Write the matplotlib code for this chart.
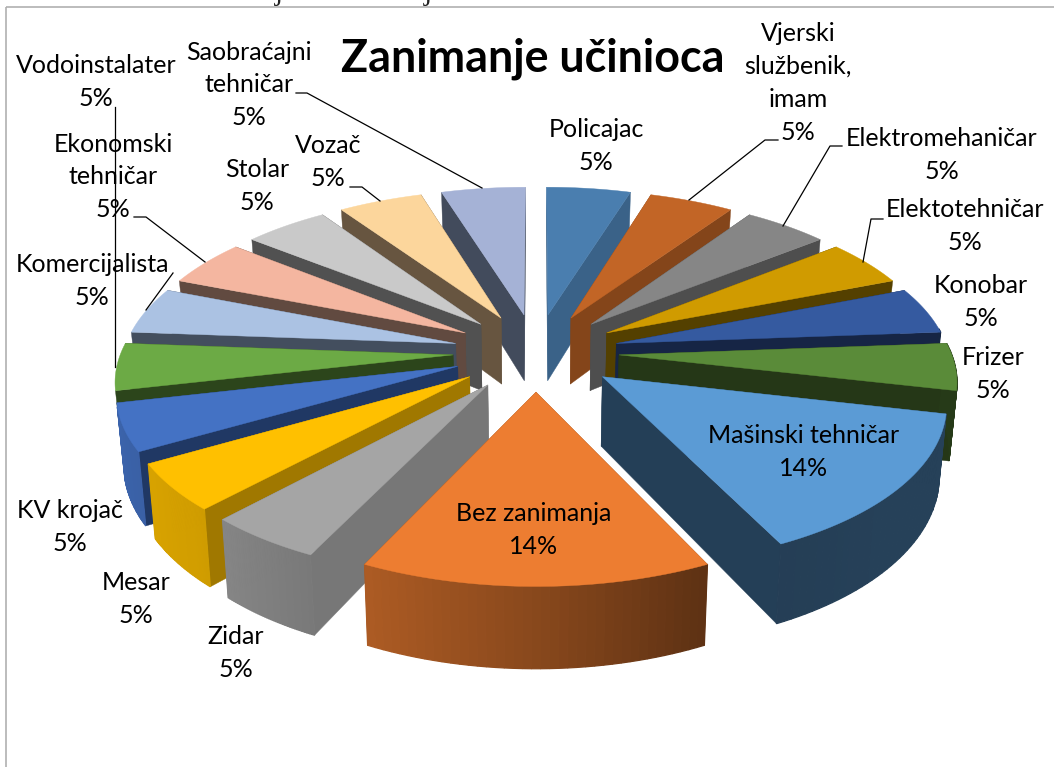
import numpy as np
import matplotlib
matplotlib.use("Agg")
import matplotlib.pyplot as plt
from matplotlib.patches import Polygon, Rectangle

plt.rcParams['font.family'] = ['Lato', 'DejaVu Sans']

labels = ["Policajac", "Vjerski\nslužbenik,\nimam", "Elektromehaničar", "Elektotehničar",
          "Konobar", "Frizer", "Mašinski tehničar", "Bez zanimanja", "Zidar", "Mesar",
          "KV krojač", "Vodoinstalater", "Komercijalista", "Ekonomski\ntehničar", "Stolar",
          "Vozač", "Saobraćajni\ntehničar"]
counts = [1, 1, 1, 1, 1, 1, 3, 3, 1, 1, 1, 1, 1, 1, 1, 1, 1]
top_colors = ["#4A7EAF", "#C26526", "#868686", "#D09B00", "#355AA0", "#5A8B39", "#5B9BD5", "#ED7D31",
              "#A5A5A5", "#FFC000", "#4472C4", "#6CAA45", "#ABC2E3", "#F4B6A0", "#C9C9C9", "#FCD69C", "#A5B2D6"]
wall_colors = ["#3A6288", "#84451A", "#4E4E4E", "#544000", "#162545", "#253717", "#243F57", "#8A4A1E",
               "#777777", "#A07800", "#203864", "#2C451B", "#434E5E", "#614A40", "#515151", "#675540", "#424B5C"]
label_pos = [(596, 146), (798, 83), (942, 155), (965, 226), (981, 302), (993, 374), (804, 452), (534, 530),
             (236, 653), (136, 599), (70, 527), (96, 82), (92, 281), (113, 177), (257, 186), (328, 162), (249, 85)]
leaders = [[(778, 140), (765, 140), (689, 200)], [(842, 146), (830, 146), (783, 226)],
           [(883, 219), (871, 219), (863, 262)], [(115, 107), (115, 367)],
           [(173, 273), (146, 310)], [(134, 217), (146, 217), (205, 262)],
           [(350, 187), (362, 187), (380, 201)], [(296, 93), (307, 93), (482, 188)]]

CX, CY, R, K, D, EXPL, H = 536, 352, 332, 155, 7.2, 0.25, 68


def project(theta, r, mid, depth=0.0):
    X = r * np.sin(theta) + EXPL * np.sin(mid)
    Y = r * np.cos(theta) + EXPL * np.cos(mid)
    s = D / (D + Y)
    f = 1 - 0.018 * depth
    return np.column_stack([CX + X * R * s * f, CY - Y * K * s + H * depth * s])


def shade(theta_deg):
    return np.interp(theta_deg, [0, 130, 155, 180, 205, 225, 260, 360], [.42, .42, .40, .58, .73, .82, .88, .88])


fig = plt.figure(figsize=(10.54, 7.67), dpi=100)
ax = fig.add_axes([0, 0, 1, 1])
ax.set_xlim(0, 1054)
ax.set_ylim(767, 0)
ax.axis("off")
ax.add_patch(Rectangle((5.5, 7), 1060, 800, fc="none", ec="#B0B0B0", lw=1.2))

share = np.array(counts) / sum(counts)
edges = np.concatenate([[0], np.cumsum(share)]) * 2 * np.pi
mids = (edges[:-1] + edges[1:]) / 2
# back slices first
order = np.argsort(-np.cos(mids))

for i in order:
    a, b, m = edges[i], edges[i + 1], mids[i]
    th = np.linspace(a, b, 40)
    zero = np.zeros(1)
    tip_t = project(np.array([a]), zero, m)
    tip_b = project(np.array([a]), zero, m, 1)
    for edge in (a, b):
        top = project(np.array([edge]), np.ones(1), m)
        bot = project(np.array([edge]), np.ones(1), m, 1)
        ax.add_patch(Polygon(np.vstack([tip_t, top, bot, tip_b]), fc=wall_colors[i], ec=wall_colors[i], lw=.3))
    arc_t = project(th, np.ones_like(th), m)
    arc_b = project(th, np.ones_like(th), m, 1)
    base = np.array(matplotlib.colors.to_rgb(top_colors[i]))
    for j in range(len(th) - 1):
        # outer wall only where it faces the viewer
        if np.cos(th[j]) > 0.1 or (np.sin(th[j]) < 0 and np.cos(th[j]) > -0.25):
            continue
        c = np.clip(base * shade(np.degrees(th[j])), 0, 1)
        ax.add_patch(Polygon(np.vstack([arc_t[j:j + 2], arc_b[j:j + 2][::-1]]), fc=c, ec=c, lw=.9))
    ax.add_patch(Polygon(np.vstack([tip_t, arc_t]), fc=top_colors[i], ec=top_colors[i], lw=.3))

for pts in leaders:
    xs, ys = zip(*pts)
    ax.plot(xs, ys, color="black", lw=.9)

for name, p, (x, y) in zip(labels, share, label_pos):
    ax.text(x, y, f"{name}\n{p * 100:.0f}%", ha="center", va="center", fontsize=18, linespacing=1.52, color="black")

ax.text(533, 59, "Zanimanje učinioca", ha="center", va="center", fontsize=32.3, fontweight="bold")
# caption of the page, cut by the top edge like in the scan
ax.text(15, 0, "Grafikon 34. Zanimanje učinioca djela", ha="left", va="baseline", fontsize=21,
        family="Liberation Serif", color="#222222")

fig.savefig("out.png", dpi=100)
